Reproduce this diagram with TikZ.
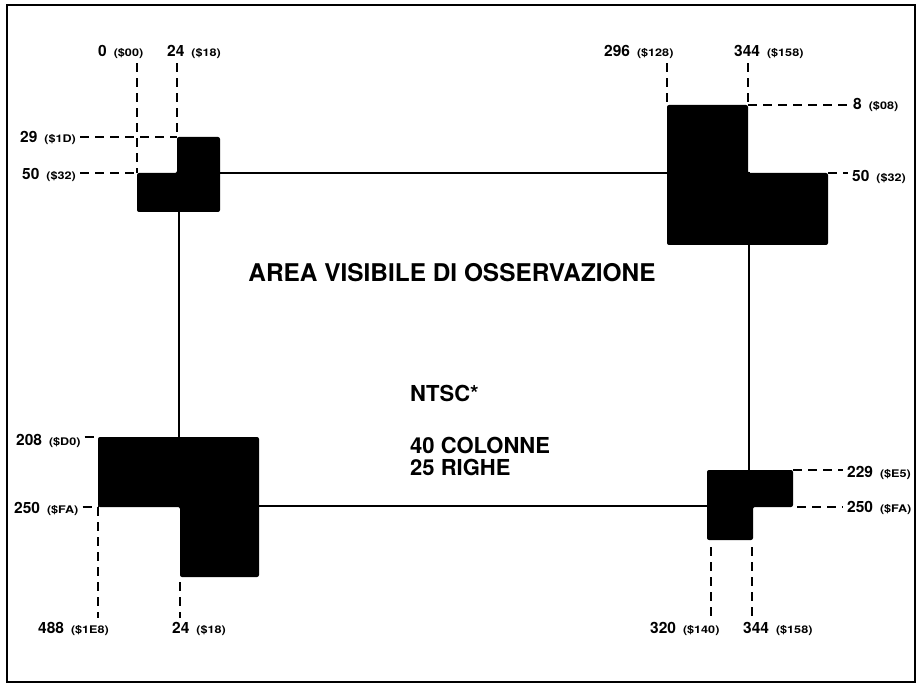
\documentclass[tikz,border=0pt]{standalone}
\usepackage{fontspec}
\usepackage{graphicx}
\setmainfont{TeX Gyre Heros}
\newcommand{\hexval}[1]{\hspace{0.45em}\scalebox{1.2}[1]{\fontsize{10.5}{10.5}\selectfont(\$#1)}}
\tikzset{
  num/.style={font=\bfseries\fontsize{15.5}{15.5}\selectfont, inner sep=4pt},
  body/.style={font=\bfseries\fontsize{22}{22}\selectfont, inner sep=0pt},
  leader/.style={line width=1.8pt, dash pattern=on 9pt off 6pt},
  block/.style={fill=black, rounded corners=2pt},
}
\begin{document}
\begin{tikzpicture}[x=1pt, y=-1pt]
  \useasboundingbox (0,0) rectangle (918,684);
  \draw[line width=2.8pt] (7,5) rectangle (915,682);
  % the visible window; the four black corners are laid over its corners
  \draw[line width=2.7pt] (179,173) rectangle (749,506);
  \fill[block] (137,173) -- (177,173) -- (177,137) -- (220,137) -- (220,212) -- (137,212) -- cycle;
  \fill[block] (667,105) -- (748,105) -- (748,173) -- (828,173) -- (828,245) -- (667,245) -- cycle;
  \fill[block] (98,437) -- (259,437) -- (259,577) -- (180,577) -- (180,507) -- (98,507) -- cycle;
  \fill[block] (707,470) -- (793,470) -- (793,507) -- (753,507) -- (753,540) -- (707,540) -- cycle;

  \coordinate (tlA) at (137,173);
  \coordinate (tlB) at (177,137);
  \coordinate (trA) at (667,105);
  \coordinate (trB) at (748,105);
  \coordinate (trC) at (828,173);
  \coordinate (blA) at (98,437);
  \coordinate (blB) at (98,507);
  \coordinate (blC) at (180,577);
  \coordinate (brA) at (793,470);
  \coordinate (brB) at (797,507);
  \coordinate (brC) at (711,540);
  \coordinate (brD) at (752,540);

  % top-left corner
  \node[num, anchor=base west] (x0) at (94,57) {0\hexval{00}};
  \node[num, anchor=base west] (x24t) at (163,57) {24\hexval{18}};
  \node[num, anchor=base west] (y29) at (16,143) {29\hexval{1D}};
  \node[num, anchor=base west] (y50l) at (18,180) {50\hexval{32}};
  \draw[leader] (tlA |- x0.south) -- (tlA);
  \draw[leader] (tlB |- x24t.south) -- (tlB);
  \draw[leader] (y29.east |- tlB) -- (tlB);
  \draw[leader] (y50l.east |- tlA) -- (tlA);

  % top-right corner
  \node[num, anchor=base west] (x296) at (600,57) {296\hexval{128}};
  \node[num, anchor=base west] (x344t) at (730,57) {344\hexval{158}};
  \node[num, anchor=base west] (y8) at (849,110) {8\hexval{08}};
  \node[num, anchor=base west] (y50r) at (848,182) {50\hexval{32}};
  \draw[leader] (trA |- x296.south) -- (trA);
  \draw[leader] (trB |- x344t.south) -- (trB);
  \draw[leader] (trB) -- (y8.west |- trB);
  \draw[leader] (trC) -- (y50r.west |- trC);

  % bottom-left corner
  \node[num, anchor=base west] (y208) at (12,445) {208\hexval{D0}};
  \node[num, anchor=base west] (y250l) at (10,513) {250\hexval{FA}};
  \node[num, anchor=base west] (x488) at (34,633) {488\hexval{1E8}};
  \node[num, anchor=base west] (x24b) at (168,633) {24\hexval{18}};
  \draw[leader] (y208.east |- blA) -- (blA);
  \draw[leader] (y250l.east |- blB) -- (blB);
  \draw[leader] (blB) -- (blB |- x488.north);
  \draw[leader, shorten <=5pt] (blC) -- (blC |- x24b.north);

  % bottom-right corner
  \node[num, anchor=base west] (y229) at (843,477) {229\hexval{E5}};
  \node[num, anchor=base west] (y250r) at (843,512) {250\hexval{FA}};
  \node[num, anchor=base west] (x320) at (646,633) {320\hexval{140}};
  \node[num, anchor=base west] (x344b) at (739,633) {344\hexval{158}};
  \draw[leader] (brA) -- (y229.west |- brA);
  \draw[leader] (brB) -- (y250r.west |- brB);
  \draw[leader, shorten <=7pt] (brC) -- (brC |- x320.north);
  \draw[leader, shorten <=7pt] (brD) -- (brD |- x344b.north);

  \node[font=\bfseries\fontsize{24.4}{24.4}\selectfont, inner sep=0pt, anchor=base] (title) at (452,282) {AREA VISIBILE DI OSSERVAZIONE};
  \node[body, anchor=base west] (std) at (410,401) {NTSC*};
  \node[body, anchor=base west] (cols) at (410,453) {40 COLONNE};
  \node[body, anchor=base west] (rows) at (410,475) {25 RIGHE};
\end{tikzpicture}
\end{document}
